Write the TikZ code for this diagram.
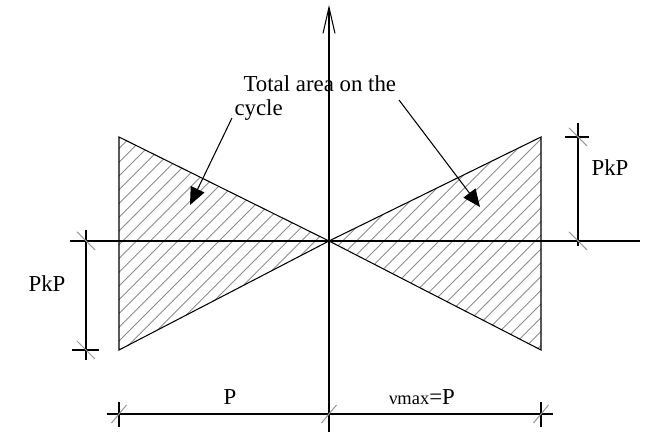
\documentclass[tikz,border=0pt]{standalone}
\usepackage{fontspec}
\setmainfont{Liberation Serif}
\usetikzlibrary{arrows.meta}

\tikzset{
  hatch/.style={gray!90,line width=0.55pt},
  tick/.style={gray!80,line width=0.6pt},
  lbl/.style={font=\fontsize{13}{15}\selectfont,inner sep=0pt}
}

\begin{document}
\begin{tikzpicture}[line width=0.6pt]
  \useasboundingbox (-6.58,-3.82) rectangle (6.32,4.82);
  % axes
  \coordinate (O) at (0,0);
  \coordinate (ytop) at (0,4.72);
  \coordinate (ybot) at (0,-3.82);
  \coordinate (xl) at (-5.18,0);
  \coordinate (xr) at (6.22,0);
  % triangles
  \coordinate (lt) at (-4.2,2.08);
  \coordinate (lb) at (-4.2,-2.18);
  \coordinate (rt) at (4.24,2.08);
  \coordinate (rb) at (4.24,-2.18);
  \begin{scope}
    \clip (O) -- (lt) -- (lb) -- cycle (O) -- (rt) -- (rb) -- cycle;
    \foreach \c in {-30,...,30}
      \draw[hatch] ({-5+0.275*\c},-5) -- ({0.275*\c},0) -- ({5+0.275*\c},5);
  \end{scope}
  \draw (O) -- (lt) -- (lb) -- cycle;
  \draw (O) -- (rt) -- (rb) -- cycle;
  \draw (xl) -- (xr);
  \draw[-{Straight Barb[length=5.2mm,width=2.4mm]}] (ybot) -- (ytop);
  % right dimension
  \draw (4.98,2.36) -- (4.98,-0.1);
  \draw (4.72,2.08) -- (5.2,2.08);
  \draw[tick] (4.8,2.26) -- (5.16,1.9);
  \draw[tick] (4.8,0.18) -- (5.16,-0.18);
  \node[lbl] (pkpr) at (5.62,1.46) {PkP};
  % left dimension
  \draw (-4.86,0.22) -- (-4.86,-2.38);
  \draw (-5.14,-2.18) -- (-4.6,-2.18);
  \draw[tick] (-5.04,0.18) -- (-4.68,-0.18);
  \draw[tick] (-5.04,-2.0) -- (-4.68,-2.36);
  \node[lbl] (pkpl) at (-5.64,-0.86) {PkP};
  % bottom dimension
  \draw (-4.44,-3.46) -- (4.48,-3.46);
  \foreach \x in {-4.2,4.24}
    \draw (\x,-3.22) -- (\x,-3.72);
  \foreach \x in {-4.2,0,4.24}
    \draw[tick] (\x-0.15,-3.64) -- (\x+0.15,-3.28);
  \node[lbl] (pl) at (-1.98,-3.12) {P};
  \node[lbl] (pr) at (1.86,-3.12) {{\fontsize{10.5}{12}\selectfont νmax}=P};
  % label with arrows
  \node[lbl,anchor=base west] (tot) at (-1.72,2.98) {Total area on the};
  \node[lbl,anchor=base west] (cyc) at (-1.9,2.5) {cycle};
  \coordinate (al) at (-2.78,0.72);
  \coordinate (ar) at (3.02,0.68);
  \draw[-{Triangle[length=3.5mm,width=3mm]}] (-1.94,2.46) -- (al);
  \draw[-{Triangle[length=3.5mm,width=3mm]}] (1.4,2.82) -- (ar);
\end{tikzpicture}
\end{document}
